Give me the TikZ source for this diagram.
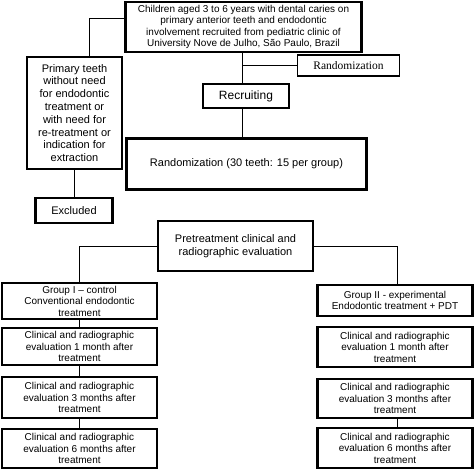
\documentclass[tikz,border=0pt]{standalone}
\usepackage{fontspec}
\setmainfont{Liberation Sans}
\newfontfamily\seriffont{Liberation Serif}
\begin{document}
\begin{tikzpicture}[x=1pt,y=-1pt,
  box/.style={draw, line width=2.6pt, align=center, inner sep=0pt,
    font=\fontsize{10}{11.5}\selectfont},
  thinbox/.style={box, line width=1.9pt},
  conn/.style={line width=0.9pt}]
\useasboundingbox (0,0) rectangle (475,470);
% nodes
\node[box, minimum width=236pt, minimum height=50pt, font=\fontsize{10}{11.3}\selectfont] (top) at (243.5,27)
  {Children aged 3 to 6 years with dental caries on\\primary anterior teeth and endodontic\\involvement recruited from pediatric clinic of\\University Nove de Julho, S\~ao Paulo, Brazil};
\node[thinbox, minimum width=95pt, minimum height=112pt, font=\fontsize{11}{12.8}\selectfont] (prim) at (74.5,113)
  {Primary teeth\\without need\\for endodontic\\treatment or\\with need for\\re-treatment or\\indication for\\extraction};
\node[thinbox, minimum width=102pt, minimum height=21pt, font=\seriffont\fontsize{11.5}{13}\selectfont] (rand1) at (348.5,65.5)
  {Randomization};
\node[box, minimum width=86pt, minimum height=24pt, font=\fontsize{12}{14}\selectfont] (recr) at (246,96)
  {Recruiting};
\node[box, minimum width=240pt, minimum height=51pt, font=\fontsize{11}{13}\selectfont] (rand2) at (246.5,164)
  {Randomization (30 teeth: 15 per group)};
\node[box, minimum width=77pt, minimum height=25pt, font=\fontsize{11}{13}\selectfont] (excl) at (74,210.5)
  {Excluded};
\node[box, minimum width=155pt, minimum height=50pt, font=\fontsize{11}{13}\selectfont] (pre) at (235.5,246)
  {Pretreatment clinical and\\radiographic evaluation};
\node[thinbox, minimum width=155pt, minimum height=36pt] (g1) at (79.5,301)
  {Group I – control\\Conventional endodontic\\treatment};
\node[box, minimum width=155pt, minimum height=31pt] (g2) at (395,300.5)
  {Group II - experimental\\Endodontic treatment + PDT};
\node[box, minimum width=155pt, minimum height=37pt] (l1) at (79.5,346.5)
  {Clinical and radiographic\\evaluation 1 month after\\treatment};
\node[box, minimum width=155pt, minimum height=41pt] (l3) at (79.5,397.5)
  {Clinical and radiographic\\evaluation 3 months after\\treatment};
\node[box, minimum width=155pt, minimum height=39pt] (l6) at (79.5,448.5)
  {Clinical and radiographic\\evaluation 6 months after\\treatment};
\node[box, minimum width=155pt, minimum height=40pt] (r1) at (395,347)
  {Clinical and radiographic\\evaluation 1 month after\\treatment};
\node[box, minimum width=155pt, minimum height=39pt] (r3) at (395,398.5)
  {Clinical and radiographic\\evaluation 3 months after\\treatment};
\node[box, minimum width=155pt, minimum height=40pt] (r6) at (395,448)
  {Clinical and radiographic\\evaluation 6 months after\\treatment};
% helper coordinates
\coordinate (cx) at (242,0);
\coordinate (px) at (89,0);
\coordinate (gx) at (397,0);
% connectors
\draw[conn] ([yshift=9pt]top.west) -| (prim.north -| px);
\draw[conn] (top.south -| cx) -- (recr.north -| cx);
\draw[conn] (rand1.west -| cx) -- (rand1.west);
\draw[conn] (recr.south -| cx) -- (rand2.north -| cx);
\draw[conn] (excl.north |- prim.south) -- (excl.north);
\draw[conn] (pre.west) -| (g1.north);
\draw[conn] (pre.east) -| (g2.north -| gx);
\draw[conn] (g1.south) -- (l1.north);
\draw[conn] (l1.south) -- (l3.north);
\draw[conn] (l3.south) -- (l6.north);
\draw[conn] (r3.south -| gx) -- (r6.north -| gx);
\end{tikzpicture}
\end{document}
